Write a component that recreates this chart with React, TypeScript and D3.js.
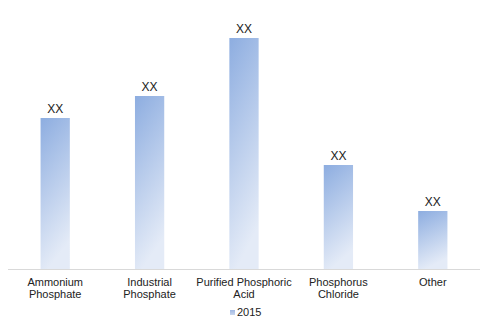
import React from "react";
import * as d3 from "d3";

const categories = [
  ["Ammonium", "Phosphate"],
  ["Industrial", "Phosphate"],
  ["Purified Phosphoric", "Acid"],
  ["Phosphorus", "Chloride"],
  ["Other"],
];
const values2015 = [151, 173, 231, 104, 58];
const barLabels = ["XX", "XX", "XX", "XX", "XX"];
const seriesName = "2015";

export default function App() {
  const W = 500, H = 326;
  const left = 8, right = 480, baseline = 269;
  const x = d3.scaleBand<number>().domain(d3.range(categories.length)).range([left, right]).paddingInner(0.69).paddingOuter(0.345);
  const y = d3.scaleLinear().domain([0, 254]).range([baseline, 15]);
  const font = "'Liberation Sans', Arial, sans-serif";
  return (
    <svg width={W} height={H} style={{ position: "absolute", left: 0, top: 0, background: "#fff" }} fontFamily={font}>
      <defs>
        <linearGradient id="barGrad" x1="0" y1="0" x2="0.25" y2="1">
          <stop offset="0" stopColor="#8dade0" />
          <stop offset="1" stopColor="#e4ebf7" />
        </linearGradient>
        <linearGradient id="legGrad" x1="0" y1="0" x2="0" y2="1">
          <stop offset="0" stopColor="#9fb8e2" />
          <stop offset="1" stopColor="#c9d6ee" />
        </linearGradient>
      </defs>
      {values2015.map((v, i) => (
        <g key={i}>
          <rect x={x(i)} y={y(v)} width={x.bandwidth()} height={baseline - y(v)} fill="url(#barGrad)" />
          <text x={(x(i) as number) + x.bandwidth() / 2} y={y(v) - 5} textAnchor="middle" fontSize={12} fill="#222">{barLabels[i]}</text>
        </g>
      ))}
      <line x1={left} x2={right} y1={baseline + 0.5} y2={baseline + 0.5} stroke="#d9d9d9" strokeWidth={1} />
      {categories.map((lines, i) => (
        <text key={i} x={(x(i) as number) + x.bandwidth() / 2} y={286} textAnchor="middle" fontSize={11} fill="#222">
          {lines.map((l, j) => (
            <tspan key={j} x={(x(i) as number) + x.bandwidth() / 2} dy={j === 0 ? 0 : 12}>{l}</tspan>
          ))}
        </text>
      ))}
      <rect x={230} y={310} width={5} height={5} fill="url(#legGrad)" />
      <text x={237} y={316} fontSize={11} fill="#222">{seriesName}</text>
    </svg>
  );
}
